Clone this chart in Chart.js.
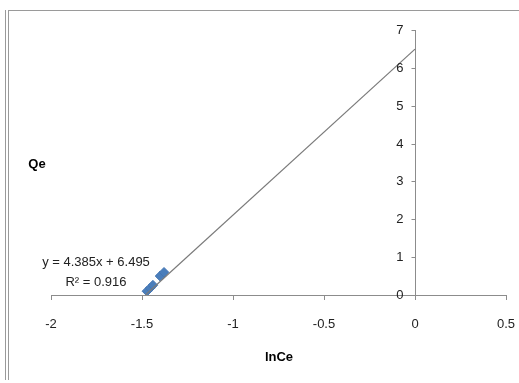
<!DOCTYPE html>
<html>
<head>
<meta charset="utf-8">
<title>Qe vs lnCe</title>
<script src="https://cdn.jsdelivr.net/npm/chart.js@4/dist/chart.umd.min.js"></script>
<style>
  html, body { margin: 0; padding: 0; background: #fff; }
  #wrap { position: relative; width: 519px; height: 383px; }
</style>
</head>
<body>
<div id="wrap"><canvas id="qeChart" width="519" height="383"></canvas></div>
<script>
// measured points
const lnCe = [-1.473, -1.456, -1.44, -1.401, -1.379];
const qe = [0.1, 0.18, 0.26, 0.5, 0.6];

// linear fit shown on the chart
const slope = 4.385;
const intercept = 6.495;
const rSquared = 0.916;
const trendX = [-1.48, 0];

const xTicks = [-2, -1.5, -1, -0.5, 0, 0.5];
const yTicks = [0, 1, 2, 3, 4, 5, 6, 7];

const FONT = "'Liberation Sans', Arial, sans-serif";
const AXIS_GREY = "#8c8c8c";

// frame lines, y axis ticks at x = 0, axis titles and trendline label
const decorations = {
  id: "decorations",
  beforeDraw(chart) {
    const ctx = chart.ctx;
    ctx.save();
    ctx.strokeStyle = "#9a9a9a";
    ctx.lineWidth = 1;
    ctx.beginPath();
    ctx.moveTo(5.5, 10);
    ctx.lineTo(5.5, 380);
    ctx.moveTo(8.5, 10);
    ctx.lineTo(8.5, 380);
    ctx.moveTo(8, 10.5);
    ctx.lineTo(519, 10.5);
    ctx.stroke();
    ctx.restore();
  },
  afterDraw(chart) {
    const ctx = chart.ctx;
    const xScale = chart.scales.x;
    const yScale = chart.scales.y;
    const axisX = Math.round(xScale.getPixelForValue(0)) + 0.5;

    ctx.save();
    // y ticks point left of the axis, labels right aligned
    ctx.strokeStyle = AXIS_GREY;
    ctx.lineWidth = 1;
    ctx.font = "13px " + FONT;
    ctx.fillStyle = "#222";
    ctx.textAlign = "right";
    ctx.textBaseline = "middle";
    yTicks.forEach((v) => {
      const py = Math.round(yScale.getPixelForValue(v)) + 0.5;
      ctx.beginPath();
      ctx.moveTo(axisX - 4, py);
      ctx.lineTo(axisX, py);
      ctx.stroke();
      ctx.fillText(String(v), axisX - 12, py);
    });

    ctx.textAlign = "center";
    ctx.fillText("y = " + slope + "x + " + intercept, 96, 262);
    ctx.fillText("R\u00B2 = " + rSquared, 96, 282);

    ctx.fillStyle = "#000";
    ctx.font = "bold 13px " + FONT;
    ctx.fillText("lnCe", 279, 357);
    ctx.fillText("Qe", 37, 164);
    ctx.restore();
  },
};

function buildChart() {
  const ctx = document.getElementById("qeChart").getContext("2d");
  const points = lnCe.map((x, i) => ({ x: x, y: qe[i] }));
  const trend = trendX.map((x) => ({ x: x, y: slope * x + intercept }));

  return new Chart(ctx, {
    type: "scatter",
    data: {
      datasets: [
        {
          label: "Trendline",
          type: "line",
          data: trend,
          borderColor: "#7a7a7a",
          borderWidth: 1.2,
          pointRadius: 0,
          fill: false,
          order: 0,
        },
        {
          label: "Qe",
          data: points,
          pointStyle: "rectRot",
          pointRadius: 4.8,
          backgroundColor: "#4a7ebb",
          borderColor: "#4576b3",
          borderWidth: 1,
          order: 1,
        },
      ],
    },
    options: {
      responsive: false,
      animation: false,
      layout: { padding: { left: 51, right: 13, top: 30, bottom: 0 } },
      plugins: {
        legend: { display: false },
        tooltip: { enabled: false },
      },
      scales: {
        x: {
          type: "linear",
          position: "bottom",
          min: -2,
          max: 0.5,
          afterBuildTicks(scale) {
            scale.ticks = xTicks.map((v) => ({ value: v }));
          },
          afterFit(scale) {
            // fixed axis band, and no extra side padding for the end labels
            scale.height = 88;
            scale.paddingLeft = 0;
            scale.paddingRight = 0;
          },
          border: { color: AXIS_GREY, width: 1 },
          grid: {
            drawOnChartArea: false,
            drawTicks: true,
            tickLength: 5,
            color: AXIS_GREY,
          },
          ticks: {
            padding: 17,
            color: "#222",
            font: { family: FONT, size: 13 },
            maxRotation: 0,
            callback: (value) => String(value),
          },
        },
        y: {
          type: "linear",
          position: { x: 0 },
          min: 0,
          max: 7,
          afterBuildTicks(scale) {
            scale.ticks = yTicks.map((v) => ({ value: v }));
          },
          border: { color: AXIS_GREY, width: 1 },
          grid: { display: false },
          ticks: { display: false },
        },
      },
    },
    plugins: [decorations],
  });
}

buildChart();
</script>
</body>
</html>
